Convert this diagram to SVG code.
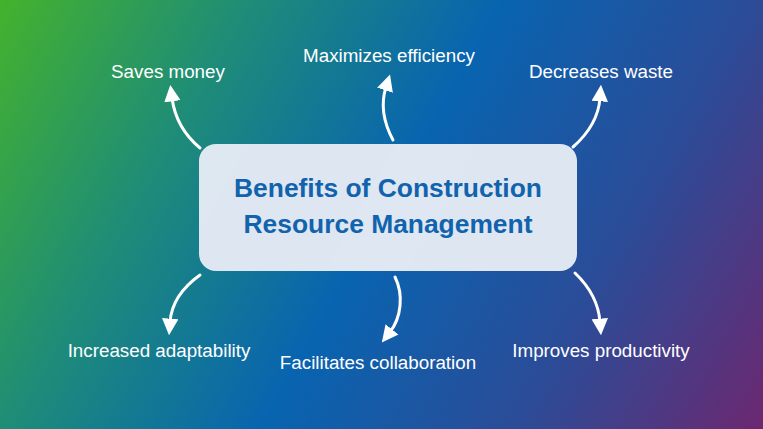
<svg xmlns="http://www.w3.org/2000/svg" width="763" height="429" viewBox="0 0 763 429">
<defs>
<linearGradient id="bg" gradientUnits="userSpaceOnUse" x1="0" y1="0" x2="763" y2="429">
<stop offset="0" stop-color="#44b22c"/>
<stop offset="0.25" stop-color="#1e8c78"/>
<stop offset="0.5" stop-color="#0864b0"/>
<stop offset="0.75" stop-color="#2b4c98"/>
<stop offset="1" stop-color="#6b2870"/>
</linearGradient>
<marker id="ah" viewBox="0 0 10 10" refX="2" refY="5" markerWidth="5.5" markerHeight="5.5" orient="auto" markerUnits="strokeWidth">
<path d="M0,0 L10,5 L0,10 Z" fill="#ffffff"/>
</marker>
<style>
.lbl{font-family:"Liberation Sans",Arial,sans-serif;font-size:18.8px;fill:#ffffff;text-anchor:middle}
.ttl{font-family:"Liberation Sans",Arial,sans-serif;font-size:26.4px;font-weight:bold;fill:#1163ae;text-anchor:middle}
.con{fill:none;stroke:#ffffff;stroke-width:3;stroke-linecap:round;marker-end:url(#ah)}
</style>
</defs>
<rect x="0" y="0" width="763" height="429" fill="url(#bg)"/>
<g id="connectors">
<path class="con" d="M200,148 Q176,128 172,98"/>
<path class="con" d="M393,140 Q378,112 386,87"/>
<path class="con" d="M573,147 Q598,125 600,98"/>
<path class="con" d="M200,275 Q172,295 170,322"/>
<path class="con" d="M395,277 C404,295 401,318 390,332"/>
<path class="con" d="M575,273 Q598,295 600,322"/>
</g>
<g id="center">
<rect x="199" y="144" width="378" height="127" rx="17" fill="#e2eaf3" fill-opacity="0.98"/>
<text class="ttl" x="388" y="197">Benefits of Construction</text>
<text class="ttl" x="388" y="233">Resource Management</text>
</g>
<g id="saves-money"><text class="lbl" x="168" y="78">Saves money</text></g>
<g id="maximizes-efficiency"><text class="lbl" x="389" y="62">Maximizes efficiency</text></g>
<g id="decreases-waste"><text class="lbl" x="601" y="78">Decreases waste</text></g>
<g id="increased-adaptability"><text class="lbl" x="159" y="357">Increased adaptability</text></g>
<g id="facilitates-collaboration"><text class="lbl" x="378" y="369">Facilitates collaboration</text></g>
<g id="improves-productivity"><text class="lbl" x="601" y="357">Improves productivity</text></g>
</svg>
